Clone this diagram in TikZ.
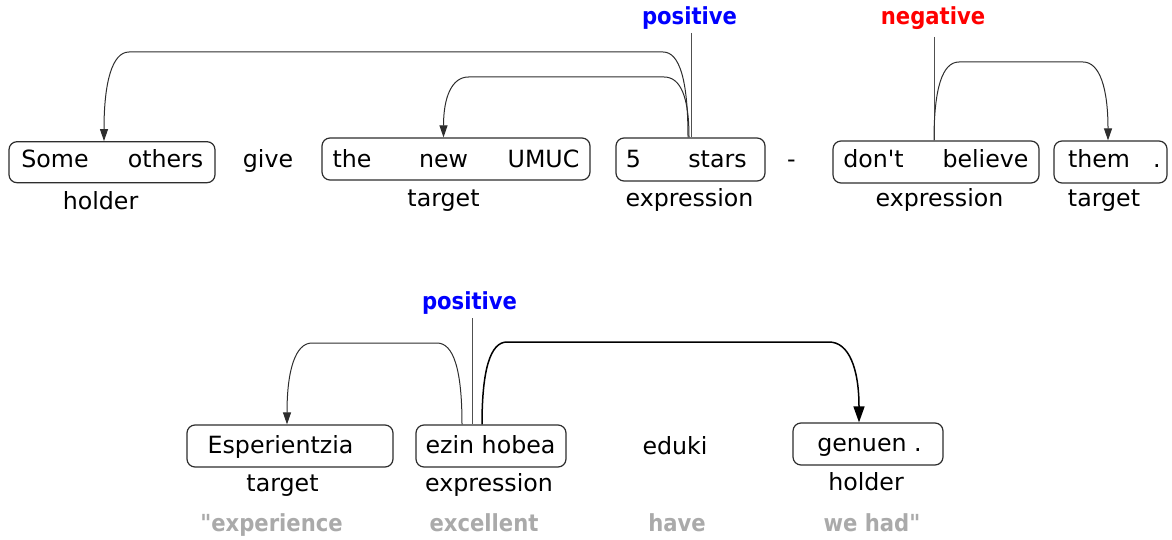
\documentclass[tikz,border=0pt]{standalone}
\usepackage{fontspec}
\setmainfont{DejaVu Sans}[Ligatures=TeXOff]
\newfontfamily\sentfont{DejaVu Sans Bold}[FakeStretch=0.9,Ligatures=TeXOff]
\usetikzlibrary{arrows.meta,calc}
\definecolor{posblue}{RGB}{0,0,255}
\definecolor{negred}{RGB}{255,0,0}
\definecolor{glossgray}{RGB}{170,170,170}
\definecolor{arcgray}{RGB}{45,45,45}
\definecolor{stemgray}{RGB}{80,80,80}
\begin{document}
\begin{tikzpicture}[x=1pt,y=-1pt,
  tok/.style={anchor=base,inner sep=0pt,font=\fontsize{23.7}{28}\selectfont},
  sent/.style={anchor=base,inner sep=0pt,font=\sentfont\fontsize{23.5}{28}\selectfont},
  gl/.style={sent,text=glossgray},
  spanbox/.style={draw=arcgray,line width=1.2pt,rounded corners=8pt,inner sep=0pt},
  conn/.style={draw=arcgray,line width=1pt,-{Triangle[length=12pt,width=8pt]}},
  connbig/.style={draw=black,line width=1.5pt,-{Triangle[length=16pt,width=11pt]}},
  stem/.style={draw=stemgray,line width=1pt}]
\useasboundingbox (0,0) rectangle (1172,540);

% ---------- row 1 boxes ----------
\node[spanbox,minimum width=206pt,minimum height=41pt] (b1) at (112,162.2) {};
\node[spanbox,minimum width=268pt,minimum height=42pt] (b2) at (456,159) {};
\node[spanbox,minimum width=149pt,minimum height=43pt] (b3) at (690.5,159.5) {};
\node[spanbox,minimum width=206pt,minimum height=42pt] (b4) at (936,162) {};
\node[spanbox,minimum width=113pt,minimum height=42pt] (b5) at (1110.5,162) {};

% ---------- row 1 tokens ----------
\node[tok] (w1)  at (55,168) {Some};
\node[tok] (w2)  at (165.5,168) {others};
\node[tok] (w3)  at (268,168) {give};
\node[tok] (w4)  at (352,168) {the};
\node[tok] (w5)  at (443.5,168) {new};
\node[tok] (w6)  at (543.5,168) {UMUC};
\node[tok] (w7)  at (633.5,168) {5};
\node[tok] (w8)  at (717.5,168) {stars};
\node[tok] (w9)  at (791.5,168) {-};
\node[tok] (w10) at (873.5,168) {don't};
\node[tok] (w11) at (985.5,168) {believe};
\node[tok] (w12) at (1099,168) {them};
\node[tok] (w13) at (1157,168) {.};

% ---------- row 1 labels ----------
\node[tok] (l1) at (100.5,210) {holder};
\node[tok] (l2) at (443.5,206.5) {target};
\node[tok] (l3) at (689.5,207) {expression};
\node[tok] (l4) at (939.5,207) {expression};
\node[tok] (l5) at (1104,206.5) {target};

% ---------- row 1 sentiments ----------
\node[sent,text=posblue] (s1) at (689.5,24.5) {positive};
\node[sent,text=negred] (s2) at (933,25) {negative};
\coordinate (s1top) at (691,33);
\coordinate (s2top) at (934,37);
\draw[stem] (s1top) -- (s1top |- b3.north);
\draw[stem] (s2top) -- (s2top |- b4.north);

% ---------- row 1 connectors ----------
\coordinate (A0) at ([xshift=-2.5pt]b3.north);
\coordinate (A1) at ([xshift=-8pt]b1.north);
\coordinate (B0) at ([xshift=-1.5pt]b3.north);
\coordinate (B1) at ([xshift=-12.5pt]b2.north);
\coordinate (N0) at ([xshift=-2pt]b4.north);
\coordinate (N1) at ([xshift=-2.5pt]b5.north);

\draw[conn] (A0) .. controls ($(A0)!0.6667!(688,52)$) and (679.67,52) .. (663,52)
  -- (129,52) .. controls (112.33,52) and ($(A1)!0.6667!(104,52)$) .. (A1);
\draw[conn] (B0) .. controls ($(B0)!0.6667!(689,77)$) and (680.67,77) .. (664,77)
  -- (468.5,77) .. controls (451.83,77) and ($(B1)!0.6667!(443.5,77)$) .. (B1);
\draw[conn] (N0) .. controls ($(N0)!0.6667!(934,62)$) and (942.33,62) .. (959,62)
  -- (1083,62) .. controls (1099.67,62) and ($(N1)!0.6667!(1108,62)$) .. (N1);

% ---------- row 2 boxes ----------
\node[spanbox,minimum width=206pt,minimum height=42pt] (c1) at (290,446) {};
\node[spanbox,minimum width=150pt,minimum height=42pt] (c2) at (491,446) {};
\node[spanbox,minimum width=150pt,minimum height=42pt] (c3) at (868,444) {};

% ---------- row 2 tokens ----------
\node[tok] (v1) at (280.5,453) {Esperientzia};
\node[tok] (v2) at (490.5,453) {ezin hobea};
\node[tok] (v3) at (675,454) {eduki};
\node[tok] (v4) at (869.5,451) {genuen .};

% ---------- row 2 labels ----------
\node[tok] (m1) at (282.5,491) {target};
\node[tok] (m2) at (489,491) {expression};
\node[tok] (m3) at (866,490) {holder};

% ---------- row 2 glosses ----------
\node[gl] (g1) at (271.5,531) {"experience};
\node[gl] (g2) at (484,531) {excellent};
\node[gl] (g3) at (677,531) {have};
\node[gl] (g4) at (872,531) {we had"};

% ---------- row 2 sentiment ----------
\node[sent,text=posblue] (s3) at (469.5,309) {positive};
\coordinate (s3top) at (472,318);
\draw[stem] (s3top) -- (s3top |- c2.north);

% ---------- row 2 connectors ----------
\coordinate (P0) at ([xshift=-29pt]c2.north);
\coordinate (P1) at ([xshift=-3pt]c1.north);
\coordinate (Q0) at ([xshift=-9pt]c2.north);
\coordinate (Q1) at ([xshift=-9pt]c3.north);

\draw[conn] (P0) .. controls ($(P0)!0.6667!(462,343)$) and (453.67,343) .. (437,343)
  -- (312,343) .. controls (295.33,343) and ($(P1)!0.6667!(287,343)$) .. (P1);
\draw[connbig] (Q0) .. controls ($(Q0)!0.6667!(482,342)$) and (490.33,342) .. (507,342)
  -- (829,342) .. controls (849,342) and ($(Q1)!0.6667!(859,342)$) .. (Q1);
\end{tikzpicture}
\end{document}
